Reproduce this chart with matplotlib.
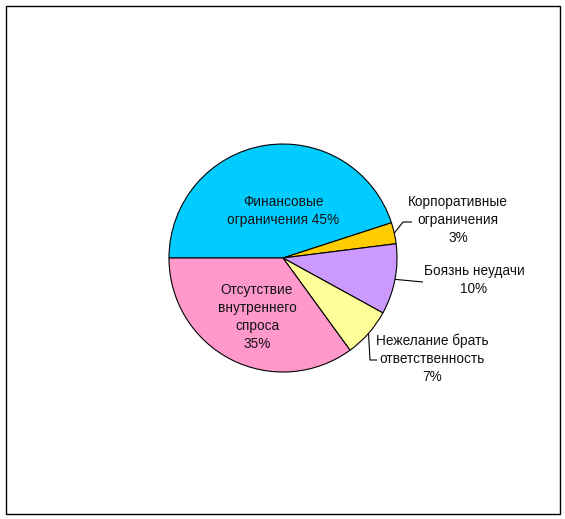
import numpy as np
import matplotlib
matplotlib.use("Agg")
import matplotlib.pyplot as plt
from matplotlib.patches import Rectangle

categories = [
    "Финансовые\nограничения",
    "Корпоративные\nограничения",
    "Боязнь неудачи",
    "Нежелание брать\nответственность",
    "Отсутствие\nвнутреннего\nспроса",
]
shares = [45, 3, 10, 7, 35]
colors = ["#00CCFF", "#FFCC00", "#CC99FF", "#FFFF99", "#FF99CC"]

W, H = 565, 519
fig = plt.figure(figsize=(W / 100, H / 100), dpi=100)
ax = fig.add_axes([0, 0, 1, 1])

cx, cy, R = 283, H - 258, 114
wedges, _ = ax.pie(shares, colors=colors, startangle=180, counterclock=False,
                   center=(cx, cy), radius=R, frame=True,
                   wedgeprops=dict(edgecolor="black", linewidth=0.8))
ax.set_xlim(0, W)
ax.set_ylim(0, H)
ax.set_aspect("equal")
ax.axis("off")

font = dict(family="Liberation Sans", fontsize=9.8, color="#111111",
            ha="center", va="center", linespacing=1.38)

def label(i):
    name = categories[i]
    if i == 0:
        return name.replace("\nограничения", "\nограничения %d%%" % shares[i])
    return "%s\n%d%%" % (name, shares[i])

# text anchor positions (pixels, from top) and leader elbows
layout = {
    0: dict(text=(283, 211), leader=None),
    1: dict(text=(458, 220), leader=[(403, 222), (412, 222)]),
    2: dict(text=(474, 280), leader=[(423, 282)]),
    3: dict(text=(432, 359), leader=[(370, 360), (377, 360)]),
    4: dict(text=(257, 317), leader=None),
}

for i, w in enumerate(wedges):
    tx, ty = layout[i]["text"]
    ax.text(tx, H - ty, label(i), **font)
    elbows = layout[i]["leader"]
    if elbows:
        mid = np.deg2rad((w.theta1 + w.theta2) / 2)
        sx, sy = cx + R * np.cos(mid), cy + R * np.sin(mid)
        xs = [sx] + [p[0] for p in elbows]
        ys = [sy] + [H - p[1] for p in elbows]
        ax.plot(xs, ys, color="black", lw=0.8, solid_capstyle="butt")

ax.add_patch(Rectangle((5.5, H - 513.5), 554, 508, fill=False,
                       edgecolor="black", linewidth=1.0))

fig.savefig("out.png", dpi=100, facecolor="white")
